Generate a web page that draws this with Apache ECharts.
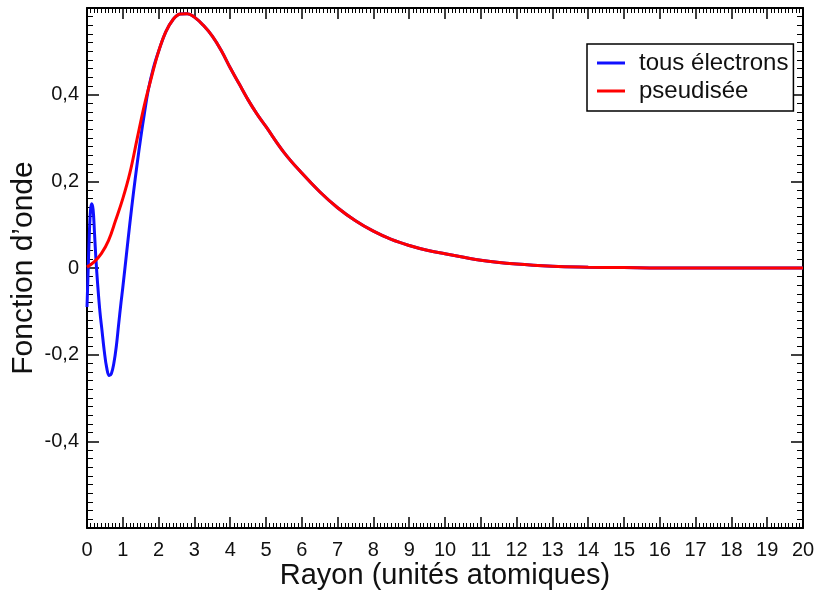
<!DOCTYPE html>
<html><head><meta charset="utf-8">
<script src="https://cdn.jsdelivr.net/npm/echarts@6/dist/echarts.min.js"></script>
<style>html,body{margin:0;padding:0;background:#fff;overflow:hidden}#c{width:100vw;height:100vh}</style>
</head><body><div id="c"></div>
<script>
const xTicks = [0,1,2,3,4,5,6,7,8,9,10,11,12,13,14,15,16,17,18,19,20];
const yTickLabels = ['-0,4','-0,2','0','0,2','0,4'];
const seriesNames = ['tous électrons','pseudisée'];

const rAll = [0,0.03,0.07,0.1,0.13,0.17,0.21,0.25,0.3,0.36,0.42,0.48,0.55,0.62,0.68,0.75,0.82,0.88,0.95,1.0,1.1,1.2,1.3,1.4,1.5,1.6,1.71,1.85,2.0,2.2,2.4,2.6,2.8,3.0,3.25,3.5,3.75,4.0,4.25,4.5,4.75,5.0,5.5,6.0,6.5,7.0,7.5,8.0,8.5,9.0,9.5,10,11,12,13,14,15,16,17,18,19,20];
const psiAll = [-0.09,-0.01,0.09,0.135,0.148,0.135,0.08,0.02,-0.04,-0.10,-0.145,-0.19,-0.23,-0.248,-0.244,-0.22,-0.18,-0.133,-0.08,-0.045,0.03,0.105,0.175,0.24,0.30,0.355,0.41,0.46,0.5,0.545,0.573,0.586,0.587,0.579,0.56,0.535,0.502,0.462,0.425,0.388,0.355,0.326,0.267,0.219,0.176,0.139,0.109,0.085,0.066,0.052,0.041,0.033,0.018,0.009,0.004,0.002,0.001,0,0,0,0,0];

const rPseudo = [0,0.2,0.4,0.6,0.8,1.0,1.2,1.4,1.6,1.8,2.0,2.2,2.4,2.6,2.8,3.0,3.25,3.5,3.75,4.0,4.25,4.5,4.75,5.0,5.5,6.0,6.5,7.0,7.5,8.0,8.5,9.0,9.5,10,11,12,13,14,15,16,17,18,19,20];
const psiPseudo = [0.002,0.014,0.033,0.063,0.11,0.16,0.22,0.298,0.375,0.44,0.5,0.545,0.573,0.586,0.587,0.579,0.56,0.535,0.502,0.462,0.425,0.388,0.355,0.326,0.267,0.219,0.176,0.139,0.109,0.085,0.066,0.052,0.041,0.033,0.018,0.009,0.004,0.002,0.001,0,0,0,0,0];

const FONT = '"Liberation Sans", Arial, Helvetica, sans-serif';
const chart = echarts.init(document.getElementById('c'), null, {renderer:'canvas'});

function xAx(pos, labels){
  return {
    type:'value', position:pos, min:0, max:20, interval:1,
    axisLine:{show:true, onZero:false, lineStyle:{color:'#000', width:2}},
    axisTick:{show:true, inside:true, length:11, lineStyle:{color:'#000', width:1.5}},
    minorTick:{show:true, splitNumber:10, length:5, lineStyle:{color:'#000', width:1}},
    splitLine:{show:false},
    axisLabel:{show:labels, color:'#111', fontSize:20, fontFamily:FONT, margin:12, showMinLabel:true, showMaxLabel:true, hideOverlap:false,
      formatter: v => String(xTicks[Math.round(v)])},
    name: labels ? 'Rayon (unités atomiques)' : '',
    nameLocation:'middle', nameGap:33, nameMoveOverlap:false,
    nameTextStyle:{color:'#111', fontSize:29, fontFamily:FONT}
  };
}
function yAx(pos, labels){
  return {
    type:'value', position:pos, min:-0.6, max:0.6, interval:0.2,
    axisLine:{show:true, onZero:false, lineStyle:{color:'#000', width:2}},
    axisTick:{show:true, inside:true, length:12, lineStyle:{color:'#000', width:1.5}},
    minorTick:{show:true, splitNumber:10, length:6, lineStyle:{color:'#000', width:1}},
    splitLine:{show:false},
    axisLabel:{show:labels, color:'#111', fontSize:20, fontFamily:FONT, margin:8,
      formatter: v => { const i = Math.round(v/0.2)+2; return (i>=0 && i<yTickLabels.length) ? yTickLabels[i] : ''; }},
    name: labels ? 'Fonction d\u2019onde' : '',
    nameLocation:'middle', nameGap:48, nameRotate:90, nameMoveOverlap:false,
    nameTextStyle:{color:'#111', fontSize:30, fontFamily:FONT}
  };
}

chart.setOption({
  animation:false,
  backgroundColor:'#fff',
  grid:{left:87, right:11, top:8, bottom:63, containLabel:false, outerBoundsMode:'none'},
  xAxis:[xAx('bottom', true), xAx('top', false)],
  yAxis:[yAx('left', true), yAx('right', false)],
  legend:{
    orient:'vertical', left:587, top:44,
    icon:'rect', itemWidth:28, itemHeight:3, itemGap:4,
    padding:[7,5,8,10],
    borderColor:'#000', borderWidth:1.5, backgroundColor:'#fff',
    textStyle:{color:'#111', fontSize:24, fontFamily:FONT, padding:[0,0,0,9]},
    data: seriesNames
  },
  series:[
    {name:seriesNames[0], type:'line', xAxisIndex:0, yAxisIndex:0, showSymbol:false, smooth:0.4,
     lineStyle:{color:'#1010ff', width:3}, itemStyle:{color:'#1010ff'},
     data: rAll.map((r,i)=>[r, psiAll[i]])},
    {name:seriesNames[1], type:'line', xAxisIndex:0, yAxisIndex:0, showSymbol:false, smooth:0.4,
     lineStyle:{color:'#ff0000', width:3}, itemStyle:{color:'#ff0000'},
     data: rPseudo.map((r,i)=>[r, psiPseudo[i]])}
  ]
});
</script></body></html>
